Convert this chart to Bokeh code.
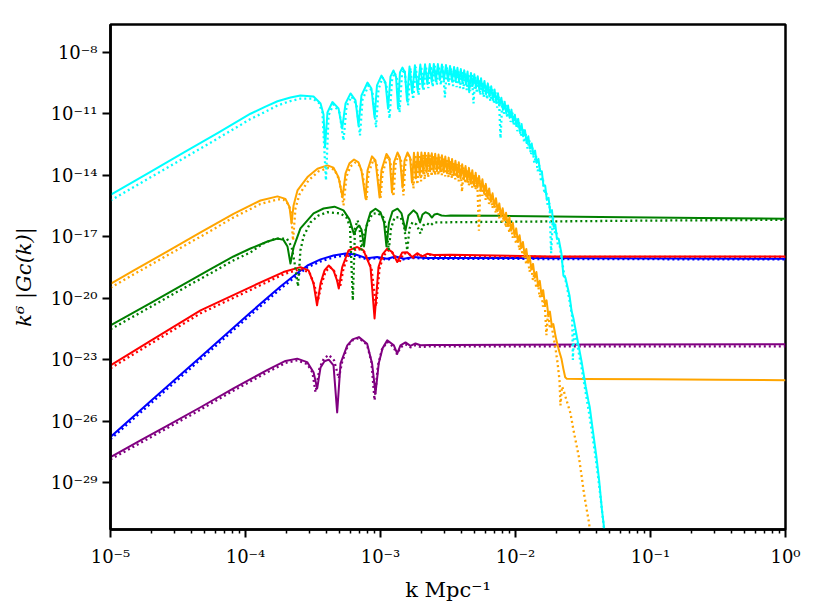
import numpy as np
from bokeh.plotting import figure
from bokeh.models import Range1d, FixedTicker, CustomJSTickFormatter
from bokeh.embed import file_html
from bokeh.resources import INLINE

# ---------------- data: (log10 k [Mpc^-1], log10 k^6|G_C(k)|) ----------------
cyan_solid = [
    (-5.0, -14.96), (-4.704, -13.83), (-4.459, -12.90), (-4.207, -11.95), (-3.963, -11.00), (-3.852, -10.65),
    (-3.763, -10.39), (-3.667, -10.21), (-3.593, -10.11), (-3.496, -10.16), (-3.444, -10.50), (-3.422, -11.04),
    (-3.411, -12.64), (-3.393, -10.94),
    (-3.356, -10.43), (-3.311, -10.74), (-3.284, -11.72), (-3.259, -10.50), (-3.222, -10.01), (-3.185, -10.35),
    (-3.163, -11.57), (-3.141, -10.11), (-3.096, -9.48), (-3.067, -9.77), (-3.044, -11.18), (-3.026, -9.62),
    (-2.993, -9.14), (-2.963, -9.48), (-2.944, -10.75), (-2.926, -9.19), (-2.904, -8.89), (-2.885, -9.19),
    (-2.870, -10.75), (-2.856, -8.99), (-2.837, -8.75), (-2.819, -8.99), (-2.804, -10.35),
    (-2.785, -8.70), (-2.765, -10.0), (-2.745, -8.64), (-2.725, -9.85), (-2.705, -8.60), (-2.688, -9.70),
    (-2.67, -8.59), (-2.653, -9.55), (-2.635, -8.58), (-2.62, -9.45), (-2.605, -8.57), (-2.59, -9.40),
    (-2.575, -8.58), (-2.56, -9.35), (-2.545, -8.60), (-2.53, -9.35), (-2.515, -8.63), (-2.50, -9.35),
    (-2.485, -8.67), (-2.47, -9.40), (-2.455, -8.72), (-2.443, -9.40), (-2.43, -8.76), (-2.418, -9.45),
    (-2.405, -8.82), (-2.393, -9.50), (-2.38, -8.88), (-2.368, -9.55), (-2.355, -8.94), (-2.343, -9.95),
    (-2.33, -9.01), (-2.318, -9.65), (-2.305, -9.08), (-2.293, -9.75), (-2.28, -9.17), (-2.268, -9.85),
    (-2.255, -9.27), (-2.243, -9.95), (-2.23, -9.40), (-2.218, -10.05), (-2.205, -9.52), (-2.193, -10.15),
    (-2.18, -9.66), (-2.168, -10.3), (-2.155, -9.82), (-2.143, -10.45), (-2.13, -10.00), (-2.118, -10.6),
    (-2.105, -10.22), (-2.093, -10.8), (-2.08, -10.42), (-2.068, -11.0), (-2.055, -10.60), (-2.043, -11.2),
    (-2.03, -10.80), (-2.018, -11.4), (-2.005, -11.05), (-1.993, -11.6), (-1.98, -11.25), (-1.968, -11.85),
    (-1.955, -11.50), (-1.943, -12.1), (-1.93, -11.80), (-1.918, -12.4), (-1.905, -12.10), (-1.893, -12.7),
    (-1.88, -12.45), (-1.868, -13.0), (-1.855, -12.80), (-1.843, -13.4), (-1.83, -13.20), (-1.818, -13.8),
    (-1.805, -13.80), (-1.793, -14.5), (-1.78, -14.50), (-1.768, -15.2), (-1.755, -15.10), (-1.743, -15.8),
    (-1.73, -15.70), (-1.718, -16.5), (-1.705, -16.40), (-1.693, -17.1), (-1.68, -17.10),
    (-1.66, -17.8), (-1.645, -18.9), (-1.63, -19.0), (-1.60, -19.86), (-1.585, -20.6), (-1.57, -21.0),
    (-1.55, -21.7), (-1.53, -22.4), (-1.51, -23.1), (-1.50, -23.5), (-1.48, -24.3), (-1.46, -25.0),
    (-1.45, -25.3), (-1.43, -26.3), (-1.40, -27.75), (-1.38, -28.9), (-1.36, -30.3), (-1.34, -31.4), (-1.33, -31.9),
]
cyan_dotted = [
    (-5.0, -15.23), (-4.704, -14.10), (-4.459, -13.17), (-4.207, -12.21), (-3.963, -11.26), (-3.852, -10.90),
    (-3.763, -10.60), (-3.667, -10.38), (-3.593, -10.26), (-3.504, -10.26), (-3.459, -10.45), (-3.430, -10.94),
    (-3.404, -14.25), (-3.385, -11.08),
    (-3.348, -10.55), (-3.304, -10.94), (-3.274, -12.30), (-3.252, -10.65), (-3.215, -10.16), (-3.178, -10.55),
    (-3.152, -12.06), (-3.133, -10.31), (-3.089, -9.62), (-3.059, -9.97), (-3.033, -11.67), (-3.015, -9.82),
    (-2.985, -9.23), (-2.956, -9.62), (-2.933, -11.23), (-2.915, -9.38), (-2.896, -8.99), (-2.874, -9.38),
    (-2.859, -10.94), (-2.841, -9.04), (-2.822, -8.84), (-2.796, -10.60),
    (-2.778, -8.78), (-2.758, -10.3), (-2.738, -8.72), (-2.718, -10.1), (-2.698, -8.69), (-2.681, -9.9),
    (-2.663, -8.68), (-2.646, -9.75), (-2.628, -8.67), (-2.613, -9.7), (-2.598, -8.67), (-2.583, -9.6),
    (-2.568, -8.68), (-2.553, -9.6), (-2.538, -8.70), (-2.523, -10.2), (-2.508, -8.73), (-2.493, -9.6),
    (-2.478, -8.77), (-2.463, -9.65), (-2.448, -8.81), (-2.436, -9.7), (-2.423, -8.86), (-2.411, -9.75),
    (-2.398, -8.92), (-2.386, -9.8), (-2.373, -8.98), (-2.361, -9.85), (-2.348, -9.05), (-2.336, -9.9),
    (-2.323, -9.12), (-2.311, -10.5), (-2.298, -9.20), (-2.286, -10.0), (-2.273, -9.30), (-2.261, -10.1),
    (-2.248, -9.42), (-2.236, -10.2), (-2.223, -9.54), (-2.211, -10.3), (-2.198, -9.66), (-2.186, -10.4),
    (-2.173, -9.80), (-2.161, -10.5), (-2.148, -9.96), (-2.136, -10.7), (-2.123, -10.15), (-2.111, -12.2),
    (-2.098, -10.36), (-2.086, -11.0), (-2.073, -10.55), (-2.061, -11.2), (-2.048, -10.75), (-2.036, -11.4),
    (-2.023, -10.95), (-2.011, -11.6), (-1.998, -11.18), (-1.986, -11.85), (-1.973, -11.42), (-1.961, -12.1),
    (-1.948, -11.68), (-1.936, -12.4), (-1.923, -11.98), (-1.911, -12.7), (-1.898, -12.30), (-1.886, -13.0),
    (-1.873, -12.65), (-1.861, -13.4), (-1.848, -13.05), (-1.836, -13.8), (-1.823, -13.50), (-1.811, -14.3),
    (-1.798, -14.10), (-1.786, -14.9), (-1.773, -14.75), (-1.761, -15.5), (-1.748, -15.35), (-1.736, -17.8),
    (-1.723, -16.0), (-1.711, -16.8), (-1.698, -16.7), (-1.686, -17.4), (-1.673, -17.4),
    (-1.655, -18.2), (-1.64, -18.8), (-1.62, -19.4), (-1.60, -20.1), (-1.58, -20.9), (-1.575, -23.0),
    (-1.565, -21.5), (-1.55, -22.0), (-1.53, -22.7), (-1.51, -23.4), (-1.49, -24.2), (-1.47, -25.0),
    (-1.45, -25.8), (-1.43, -26.7), (-1.41, -27.6), (-1.39, -28.6), (-1.37, -29.7), (-1.35, -30.9), (-1.335, -31.9),
]
orange_solid = [
    (-5.0, -19.29), (-4.830, -18.65), (-4.578, -17.71), (-4.333, -16.79), (-4.089, -15.88), (-3.889, -15.23),
    (-3.763, -15.03), (-3.704, -15.15), (-3.674, -15.55), (-3.659, -16.35), (-3.644, -15.47), (-3.615, -14.74),
    (-3.541, -14.09), (-3.467, -13.68), (-3.393, -13.52), (-3.348, -13.63), (-3.311, -14.09), (-3.281, -15.08),
    (-3.259, -13.91), (-3.230, -13.42), (-3.196, -13.23), (-3.163, -13.37), (-3.141, -13.76), (-3.111, -15.13),
    (-3.096, -13.76), (-3.063, -13.08), (-3.037, -13.28), (-3.007, -15.08), (-2.993, -13.76), (-2.956, -12.96),
    (-2.933, -13.18), (-2.915, -14.84), (-2.900, -13.37), (-2.874, -12.89), (-2.856, -13.13), (-2.837, -14.60),
    (-2.822, -13.28), (-2.800, -12.89), (-2.781, -13.13), (-2.767, -14.35),
    (-2.752, -12.90), (-2.738, -14.15), (-2.724, -12.89), (-2.71, -14.0), (-2.697, -12.89), (-2.684, -13.9),
    (-2.671, -12.90), (-2.658, -13.85), (-2.645, -12.91), (-2.632, -13.8), (-2.62, -12.93), (-2.607, -13.8),
    (-2.595, -12.95), (-2.582, -13.8), (-2.57, -12.99), (-2.557, -13.8), (-2.545, -13.03), (-2.532, -13.85),
    (-2.52, -13.08), (-2.507, -13.9), (-2.495, -13.14), (-2.482, -13.95), (-2.47, -13.21), (-2.457, -14.0),
    (-2.445, -13.29), (-2.432, -14.05), (-2.42, -13.37), (-2.407, -14.15), (-2.395, -13.46), (-2.382, -14.2),
    (-2.37, -13.55), (-2.357, -14.3), (-2.345, -13.64), (-2.332, -14.4), (-2.32, -13.75), (-2.307, -14.5),
    (-2.295, -13.88), (-2.282, -14.6), (-2.27, -14.03), (-2.257, -14.75), (-2.245, -14.20), (-2.232, -14.9),
    (-2.22, -14.42), (-2.207, -15.1), (-2.195, -14.64), (-2.182, -15.3), (-2.17, -14.88), (-2.157, -15.5),
    (-2.145, -15.12), (-2.132, -15.75), (-2.12, -15.37), (-2.107, -16.0), (-2.095, -15.61), (-2.082, -16.2),
    (-2.07, -15.83), (-2.057, -16.45), (-2.045, -16.05), (-2.032, -16.7), (-2.02, -16.32), (-2.007, -16.95),
    (-1.995, -16.59), (-1.982, -17.25), (-1.97, -16.92), (-1.957, -17.55), (-1.945, -17.25), (-1.932, -17.9),
    (-1.92, -17.59), (-1.907, -18.25), (-1.895, -17.93), (-1.882, -18.6), (-1.87, -18.32), (-1.857, -19.0),
    (-1.845, -18.72), (-1.832, -19.4), (-1.82, -19.15), (-1.807, -19.85), (-1.795, -19.60), (-1.782, -20.3),
    (-1.77, -20.10), (-1.757, -20.8), (-1.745, -20.65), (-1.732, -21.3), (-1.72, -21.25),
    (-1.70, -21.95), (-1.68, -22.5), (-1.66, -22.93), (-1.645, -23.45), (-1.632, -23.85), (-1.62, -23.92),
    (-1.5, -23.93), (-1.0, -23.95), (-0.5, -23.97), (0.0, -23.99),
]
orange_dotted = [
    (-5.0, -19.49), (-4.830, -18.84), (-4.578, -17.90), (-4.333, -16.99), (-4.089, -16.06), (-3.889, -15.40),
    (-3.763, -15.18), (-3.719, -15.18), (-3.681, -15.42), (-3.663, -15.81), (-3.648, -17.18), (-3.630, -15.62),
    (-3.600, -14.93), (-3.533, -14.25), (-3.459, -13.81), (-3.385, -13.64), (-3.341, -13.72), (-3.304, -14.25),
    (-3.274, -15.47), (-3.252, -14.06), (-3.222, -13.57), (-3.185, -13.37), (-3.156, -13.52), (-3.133, -13.91),
    (-3.104, -15.23), (-3.089, -13.91), (-3.052, -13.23), (-3.030, -13.42), (-3.0, -15.13), (-2.985, -13.91),
    (-2.948, -13.08), (-2.926, -13.33), (-2.904, -15.03), (-2.889, -13.47), (-2.867, -13.03), (-2.848, -13.28),
    (-2.830, -14.98), (-2.815, -13.37), (-2.793, -13.03), (-2.774, -13.28), (-2.756, -14.64),
    (-2.741, -13.0), (-2.727, -14.45), (-2.713, -12.99), (-2.70, -14.3), (-2.686, -12.99), (-2.673, -14.2),
    (-2.66, -13.0), (-2.647, -14.1), (-2.634, -13.01), (-2.621, -14.05), (-2.609, -13.03), (-2.596, -14.0),
    (-2.584, -13.06), (-2.571, -14.0), (-2.559, -13.10), (-2.546, -14.0), (-2.534, -13.15), (-2.521, -14.05),
    (-2.509, -13.20), (-2.496, -14.1), (-2.484, -13.27), (-2.471, -14.15), (-2.459, -13.35), (-2.446, -14.2),
    (-2.434, -13.43), (-2.421, -14.3), (-2.409, -13.52), (-2.396, -14.8), (-2.384, -13.60), (-2.371, -14.4),
    (-2.359, -13.70), (-2.346, -14.5), (-2.334, -13.81), (-2.321, -14.6), (-2.309, -13.94), (-2.296, -14.7),
    (-2.284, -14.09), (-2.271, -16.7), (-2.259, -14.26), (-2.246, -15.0), (-2.234, -14.48), (-2.221, -15.2),
    (-2.209, -14.70), (-2.196, -15.4), (-2.184, -14.94), (-2.171, -15.6), (-2.159, -15.18), (-2.146, -15.85),
    (-2.134, -15.43), (-2.121, -16.1), (-2.109, -15.67), (-2.096, -16.3), (-2.084, -15.89), (-2.071, -16.55),
    (-2.059, -16.11), (-2.046, -16.8), (-2.034, -16.38), (-2.021, -17.05), (-2.009, -16.65), (-1.996, -17.35),
    (-1.984, -16.98), (-1.971, -17.65), (-1.959, -17.31), (-1.946, -18.0), (-1.934, -17.65), (-1.921, -18.35),
    (-1.909, -17.99), (-1.896, -18.7), (-1.884, -18.38), (-1.871, -19.1), (-1.859, -18.78), (-1.846, -19.5),
    (-1.834, -19.21), (-1.821, -19.95), (-1.809, -19.66), (-1.796, -20.4), (-1.784, -20.16), (-1.771, -21.8),
    (-1.759, -20.71), (-1.746, -21.4), (-1.734, -21.31),
    (-1.707, -22.29), (-1.689, -23.12), (-1.674, -24.0), (-1.667, -25.22), (-1.655, -24.3), (-1.644, -24.49),
    (-1.622, -24.97), (-1.593, -25.6), (-1.570, -26.44), (-1.548, -27.16), (-1.530, -27.75), (-1.511, -28.63),
    (-1.493, -29.50), (-1.474, -30.24), (-1.456, -30.92), (-1.444, -31.55),
]
green_solid = [
    (-5.0, -21.32), (-4.704, -20.23), (-4.459, -19.32), (-4.259, -18.58), (-4.089, -17.96), (-3.963, -17.57),
    (-3.837, -17.23), (-3.763, -17.08), (-3.719, -17.15), (-3.689, -17.47), (-3.667, -18.30), (-3.644, -17.52),
    (-3.593, -16.59), (-3.496, -15.86), (-3.422, -15.62), (-3.341, -15.53), (-3.274, -15.71), (-3.230, -16.15),
    (-3.196, -16.88), (-3.178, -16.59), (-3.159, -16.45), (-3.141, -16.64), (-3.122, -17.47), (-3.104, -16.45),
    (-3.074, -15.81), (-3.037, -15.63), (-3.0, -15.81), (-2.974, -16.30), (-2.956, -17.47), (-2.937, -16.30),
    (-2.911, -15.76), (-2.874, -15.63), (-2.844, -15.86), (-2.815, -16.69), (-2.793, -15.96), (-2.756, -15.71),
    (-2.730, -15.86), (-2.707, -16.30), (-2.689, -15.91), (-2.667, -15.80), (-2.641, -15.88), (-2.619, -16.06),
    (-2.600, -15.91), (-2.578, -15.88), (-2.548, -15.96), (-2.519, -15.98), (-2.481, -15.96), (-2.111, -15.98),
    (-1.370, -16.03), (-0.630, -16.08), (0.0, -16.12),
]
green_dotted = [
    (-5.0, -21.51), (-4.704, -20.42), (-4.459, -19.51), (-4.259, -18.78), (-4.089, -18.15), (-3.963, -17.76),
    (-3.867, -17.32), (-3.793, -17.13), (-3.741, -17.08), (-3.693, -17.10), (-3.659, -17.47), (-3.637, -18.25),
    (-3.611, -19.42), (-3.593, -17.66), (-3.570, -16.98), (-3.519, -16.30), (-3.459, -15.96), (-3.393, -15.80),
    (-3.296, -15.86), (-3.252, -16.06), (-3.226, -16.50), (-3.205, -20.10), (-3.189, -16.59), (-3.170, -16.20),
    (-3.156, -16.50), (-3.141, -17.66), (-3.126, -16.98), (-3.104, -16.50), (-3.061, -15.88), (-3.022, -15.84),
    (-2.978, -16.06), (-2.956, -16.59), (-2.939, -17.66), (-2.922, -16.59), (-2.896, -16.06), (-2.852, -16.04),
    (-2.826, -16.45), (-2.802, -17.66), (-2.785, -16.59), (-2.763, -16.29), (-2.733, -16.40), (-2.704, -16.84),
    (-2.685, -16.45), (-2.659, -16.33), (-2.630, -16.45), (-2.605, -16.30), (-2.556, -16.30), (-2.481, -16.29),
    (-1.741, -16.25), (-1.0, -16.21), (0.0, -16.17),
]
red_solid = [
    (-5.0, -23.27), (-4.704, -22.07), (-4.333, -20.59), (-3.963, -19.45), (-3.719, -18.72), (-3.593, -18.48),
    (-3.533, -18.64), (-3.496, -19.27), (-3.470, -20.34), (-3.444, -19.27), (-3.415, -18.64), (-3.383, -18.40),
    (-3.348, -18.64), (-3.322, -19.13), (-3.309, -19.52), (-3.284, -18.49), (-3.237, -17.66), (-3.172, -17.50),
    (-3.126, -17.66), (-3.074, -18.48), (-3.044, -20.98), (-3.015, -18.49), (-2.985, -17.86), (-2.950, -17.58),
    (-2.913, -17.75), (-2.876, -18.23), (-2.839, -17.76), (-2.802, -17.75), (-2.765, -17.99), (-2.728, -17.80),
    (-2.691, -17.96), (-2.654, -17.83), (-2.607, -17.89), (-2.481, -17.88), (-1.741, -17.96), (0.0, -17.96),
]
red_dotted = [
    (-5.0, -23.41), (-4.704, -22.22), (-4.333, -20.73), (-3.963, -19.59), (-3.719, -18.83), (-3.593, -18.57),
    (-3.526, -18.74), (-3.489, -19.37), (-3.463, -20.10), (-3.437, -19.32), (-3.407, -18.69), (-3.374, -18.47),
    (-3.341, -18.69), (-3.315, -19.18), (-3.300, -19.47), (-3.274, -18.54), (-3.230, -17.76), (-3.167, -17.57),
    (-3.119, -17.74), (-3.067, -18.54), (-3.033, -20.39), (-3.007, -18.54), (-2.978, -17.93), (-2.941, -17.66),
    (-2.904, -17.81), (-2.863, -18.29), (-2.830, -17.81), (-2.793, -17.81), (-2.756, -18.03), (-2.719, -17.83),
    (-2.681, -18.00), (-2.644, -17.86), (-2.593, -17.93), (-2.481, -17.93), (-1.741, -17.98), (0.0, -17.98),
]
blue_solid = [
    (-5.0, -26.76), (-4.704, -25.02), (-4.333, -22.86), (-3.963, -20.69), (-3.741, -19.42), (-3.630, -18.84),
    (-3.541, -18.40), (-3.444, -18.10), (-3.348, -17.91), (-3.259, -17.81), (-3.185, -17.86), (-3.099, -18.05),
    (-3.025, -17.98), (-2.950, -18.07), (-2.889, -17.96), (-2.827, -18.07), (-2.753, -17.99), (-2.667, -18.03),
    (-2.481, -18.03), (-1.370, -18.05), (0.0, -18.07),
]
blue_dotted = [
    (-5.0, -26.87), (-4.704, -25.14), (-4.333, -22.98), (-3.963, -20.81), (-3.741, -19.54), (-3.630, -18.95),
    (-3.541, -18.49), (-3.444, -18.20), (-3.348, -18.00), (-3.259, -17.91), (-3.185, -17.93), (-3.096, -18.10),
    (-3.022, -18.03), (-2.948, -18.12), (-2.889, -18.00), (-2.830, -18.10), (-2.756, -18.03), (-2.667, -18.07),
    (-2.481, -18.07), (-1.370, -18.09), (0.0, -18.10),
]
purple_solid = [
    (-5.0, -27.74), (-4.778, -26.93), (-4.578, -26.21), (-4.333, -25.31), (-4.089, -24.39), (-3.837, -23.49),
    (-3.704, -23.05), (-3.617, -22.94), (-3.543, -23.11), (-3.496, -23.60), (-3.469, -24.39), (-3.444, -23.37),
    (-3.415, -23.07), (-3.383, -22.99), (-3.348, -23.27), (-3.321, -25.56), (-3.296, -23.17), (-3.246, -22.29),
    (-3.207, -22.00), (-3.160, -21.89), (-3.099, -22.21), (-3.062, -23.19), (-3.037, -24.63), (-3.013, -23.17),
    (-2.985, -22.44), (-2.950, -22.05), (-2.901, -22.29), (-2.876, -22.70), (-2.852, -22.29), (-2.815, -22.15),
    (-2.778, -22.32), (-2.741, -22.20), (-2.704, -22.29), (-2.630, -22.27), (-2.481, -22.27), (-1.370, -22.25),
    (0.0, -22.24),
]
purple_dotted = [
    (-5.0, -27.85), (-4.778, -27.05), (-4.578, -26.32), (-4.333, -25.43), (-4.089, -24.50), (-3.837, -23.60),
    (-3.704, -23.15), (-3.617, -23.02), (-3.543, -23.20), (-3.504, -23.61), (-3.481, -24.58), (-3.452, -23.41),
    (-3.419, -22.93), (-3.383, -22.76), (-3.344, -23.02), (-3.309, -23.90), (-3.285, -23.12), (-3.244, -22.34),
    (-3.207, -22.05), (-3.160, -21.93), (-3.099, -22.27), (-3.067, -23.12), (-3.044, -24.97), (-3.019, -23.27),
    (-2.989, -22.49), (-2.950, -22.12), (-2.904, -22.37), (-2.878, -22.73), (-2.852, -22.39), (-2.815, -22.24),
    (-2.778, -22.39), (-2.741, -22.29), (-2.704, -22.37), (-2.630, -22.34), (-2.481, -22.34), (-1.370, -22.34),
    (0.0, -22.34),
]

x_tick_values = [1e-5, 1e-4, 1e-3, 1e-2, 1e-1, 1e0]
x_tick_labels = ["10⁻⁵", "10⁻⁴", "10⁻³", "10⁻²", "10⁻¹", "10⁰"]
y_tick_values = [1e-29, 1e-26, 1e-23, 1e-20, 1e-17, 1e-14, 1e-11, 1e-8]
y_tick_labels = ["10⁻²⁹", "10⁻²⁶", "10⁻²³", "10⁻²⁰", "10⁻¹⁷", "10⁻¹⁴", "10⁻¹¹", "10⁻⁸"]
x_label = "k Mpc⁻¹"
y_label = "k⁶ |Gᴄ(k)|"

series = [
    (purple_solid, "purple", "solid"), (purple_dotted, "purple", "dotted"),
    (blue_solid, "blue", "solid"), (blue_dotted, "blue", "dotted"),
    (red_solid, "red", "solid"), (red_dotted, "red", "dotted"),
    (green_solid, "green", "solid"), (green_dotted, "green", "dotted"),
    (orange_solid, "orange", "solid"), (orange_dotted, "orange", "dotted"),
    (cyan_solid, "cyan", "solid"), (cyan_dotted, "cyan", "dotted"),
]

# ---------------- figure ----------------
p = figure(width=809, height=605, x_axis_type="log", y_axis_type="log",
           x_range=Range1d(1e-5, 1.0), y_range=Range1d(10 ** -31.27, 10 ** -6.65),
           output_backend="svg", toolbar_location=None)
p.min_border_left = 110
p.min_border_right = 24
p.min_border_top = 24
p.min_border_bottom = 76
p.grid.visible = False
p.background_fill_color = "white"
p.border_fill_color = "white"
p.outline_line_color = "black"
p.outline_line_width = 2.5
p.outline_line_alpha = 1.0

for pts, col, style in series:
    arr = np.array(pts, dtype=float)
    k = 10.0 ** arr[:, 0]
    g = 10.0 ** arr[:, 1]
    if style == "solid":
        p.line(k, g, line_color=col, line_width=2.0, line_join="round")
    else:
        p.line(k, g, line_color=col, line_width=2.3, line_dash="2 3", line_cap="butt")

sup_js = """
const sup = {'-':'\u207b','0':'\u2070','1':'\u00b9','2':'\u00b2','3':'\u00b3','4':'\u2074',
             '5':'\u2075','6':'\u2076','7':'\u2077','8':'\u2078','9':'\u2079'};
const e = Math.round(Math.log10(tick));
return '10' + String(e).split('').map(c => sup[c]).join('');
"""

x_minor = [m * t for t in x_tick_values[:-1] for m in range(2, 10)]
p.xaxis.ticker = FixedTicker(ticks=x_tick_values, minor_ticks=x_minor)
p.yaxis.ticker = FixedTicker(ticks=y_tick_values, minor_ticks=[])
p.xaxis.formatter = CustomJSTickFormatter(code=sup_js)
p.yaxis.formatter = CustomJSTickFormatter(code=sup_js)
p.xaxis.major_label_overrides = dict(zip(x_tick_values, x_tick_labels))
p.yaxis.major_label_overrides = dict(zip(y_tick_values, y_tick_labels))

font = "DejaVu Serif"
for ax in (p.xaxis[0], p.yaxis[0]):
    ax.axis_line_color = "black"
    ax.axis_line_width = 2.5
    ax.major_tick_line_color = "black"
    ax.major_tick_line_width = 2
    ax.major_tick_in = 0
    ax.major_tick_out = 8
    ax.minor_tick_line_color = "black"
    ax.minor_tick_line_width = 1.5
    ax.minor_tick_in = 0
    ax.minor_tick_out = 4
    ax.major_label_text_font = font
    ax.major_label_text_font_size = "18px"
    ax.major_label_text_color = "black"
    ax.axis_label_text_font = font
    ax.axis_label_text_font_size = "21px"
    ax.axis_label_text_color = "black"
    ax.axis_label_text_font_style = "italic"

p.xaxis.major_label_standoff = 8
p.yaxis.major_label_standoff = 5
p.xaxis.axis_label = x_label
p.yaxis.axis_label = y_label
p.xaxis.axis_label_standoff = 8
p.yaxis.axis_label_standoff = 12
p.xaxis.axis_label_text_font_style = "normal"

open("out.html", "w").write(file_html(p, INLINE))
